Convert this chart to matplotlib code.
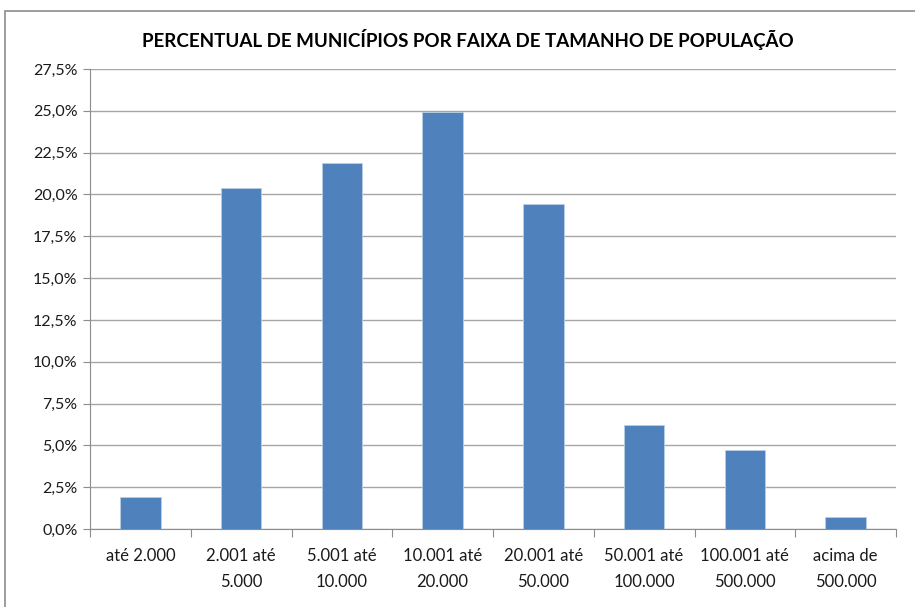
import matplotlib
matplotlib.use("Agg")
import matplotlib.pyplot as plt
from matplotlib.patches import Rectangle
from matplotlib.ticker import FuncFormatter, MultipleLocator

plt.rcParams["font.family"] = ["Lato", "DejaVu Sans"]

# ── Data ──────────────────────────────────────────────────────────────
categories = ["até 2.000", "2.001 até\n5.000", "5.001 até\n10.000", "10.001 até\n20.000",
              "20.001 até\n50.000", "50.001 até\n100.000", "100.001 até\n500.000",
              "acima de\n500.000"]
percent = [1.9, 20.4, 21.9, 24.9, 19.4, 6.2, 4.7, 0.7]

title = "PERCENTUAL DE MUNICÍPIOS POR FAIXA DE TAMANHO DE POPULAÇÃO"

# ── Figure ────────────────────────────────────────────────────────────
W, H = 915, 607
fig = plt.figure(figsize=(W / 100, H / 100), dpi=100)
fig.patches.append(Rectangle((5 / W, -0.1), 1.2, 1 - 11 / H + 0.1, transform=fig.transFigure,
                             fill=False, edgecolor="#8c8c8c", linewidth=1.2))

ax = fig.add_axes([90 / W, 1 - 529 / H, (896 - 90) / W, (529 - 69) / H])
x = range(len(categories))
ax.bar(x, percent, width=0.4, color="#4F81BD", edgecolor="#b9cde5", linewidth=0.6, zorder=3)

ax.set_xlim(-0.5, len(categories) - 0.5)
ax.set_ylim(0, 27.5)
ax.yaxis.set_major_locator(MultipleLocator(2.5))
ax.yaxis.set_major_formatter(FuncFormatter(lambda v, p: f"{v:.1f}%".replace(".", ",")))
ax.grid(axis="y", color="#a6a6a6", linewidth=1, zorder=0)

ax.set_xticks([i - 0.5 for i in range(len(categories) + 1)])
ax.set_xticklabels([])
ax.set_xticks(list(x), minor=True)
ax.set_xticklabels(categories, minor=True, fontsize=12, color="#1a1a1a", linespacing=1.75)
ax.tick_params(axis="x", which="minor", length=0, pad=14)
ax.tick_params(axis="x", which="major", length=6, color="#8c8c8c")
ax.tick_params(axis="y", length=5, color="#8c8c8c", labelsize=11.5, labelcolor="#1a1a1a", pad=4)

for s in ["top", "right"]:
    ax.spines[s].set_visible(False)
for s in ["left", "bottom"]:
    ax.spines[s].set_color("#8c8c8c")

fig.text(468 / W, 1 - 40 / H, title, ha="center", va="center", fontsize=13.5, fontweight="bold",
         color="#000000")

fig.savefig("out.png", dpi=100)
